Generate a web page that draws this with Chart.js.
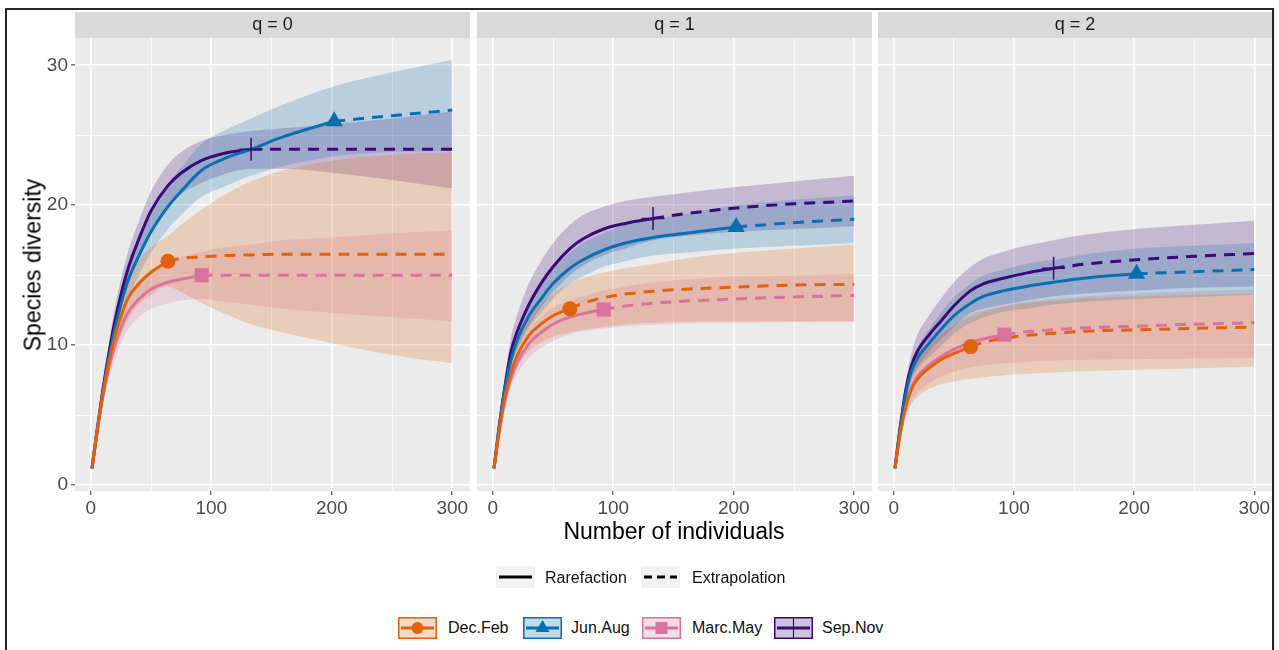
<!DOCTYPE html>
<html><head><meta charset="utf-8">
<script src="https://cdn.jsdelivr.net/npm/chart.js@4.4.1/dist/chart.umd.min.js"></script>
<style>
body{margin:0;background:#fff;width:1279px;height:650px;overflow:hidden;position:relative;font-family:"Liberation Sans",Arial,sans-serif}
.frame{position:absolute;left:5px;top:8px;width:1269px;height:700px;border:2.5px solid #262626;box-sizing:border-box}
.facet{position:absolute;top:12px;height:510px}
.facet canvas{display:block}
.ytitle{position:absolute;left:33px;top:265px;transform:translate(-50%,-50%) rotate(-90deg);font-size:23px;color:#000;white-space:nowrap}
.xtitle{position:absolute;left:674px;top:531px;transform:translate(-50%,-50%);font-size:23px;color:#000;white-space:nowrap}
.lg{position:absolute;font-size:16px;color:#111;white-space:nowrap;line-height:20px}
.key{position:absolute}
</style>
</head><body>
<div class="frame"></div>
<div class="facet" style="left:0;width:470px"><canvas id="c0" width="470" height="510"></canvas></div>
<div class="facet" style="left:477px;width:395px"><canvas id="c1" width="395" height="510"></canvas></div>
<div class="facet" style="left:878px;width:394px"><canvas id="c2" width="394" height="510"></canvas></div>
<div class="ytitle">Species diversity</div>
<div class="xtitle">Number of individuals</div>
<div id="legend"></div>
<script>
// ---------- data ----------
const X = [1,5,10,15,20,30,40,50,64,75,92,110,133,160,202,250,300];
const seasons = ['Dec.Feb','Jun.Aug','Marc.May','Sep.Nov'];
const observedN = [64, 202, 92, 133];
const qLabels = ['q = 0','q = 1','q = 2'];
const xTickValues = [0,50,100,150,200,250,300];
const yTickValues = [0,5,10,15,20,25,30];
const lineTypes = ['Rarefaction','Extrapolation'];

// q = 0
const q0_DecFeb_est = [1.2,3.7,6.5,8.8,10.6,13.2,14.4,15.2,16.0,16.2,16.3,16.4,16.45,16.5,16.5,16.5,16.5];
const q0_DecFeb_lo  = [1.1,3.3,5.9,7.9,9.5,11.7,12.9,13.6,14.2,13.8,13.0,12.3,11.5,10.9,10.1,9.3,8.7];
const q0_DecFeb_hi  = [1.3,4.1,7.1,9.7,11.7,14.7,16.1,17.0,17.8,18.6,19.7,20.7,21.7,22.5,23.2,23.6,23.8];
const q0_JunAug_est = [1.2,3.7,6.6,9.1,11.2,14.4,16.4,18.1,19.9,21.0,22.5,23.3,24.0,24.9,26.0,26.4,26.8];
const q0_JunAug_lo  = [1.1,3.3,6.0,8.3,10.2,13.1,15.0,16.6,18.3,19.3,20.6,21.3,22.1,22.8,23.5,23.8,23.9];
const q0_JunAug_hi  = [1.3,4.1,7.2,9.9,12.2,15.7,17.8,19.6,21.5,22.7,24.4,25.3,26.2,27.2,28.5,29.5,30.4];
const q0_MarcMay_est = [1.2,3.6,6.3,8.4,10.0,12.2,13.3,14.0,14.5,14.7,15.0,15.0,15.0,15.0,15.0,15.0,15.0];
const q0_MarcMay_lo  = [1.1,3.2,5.7,7.6,9.0,11.0,12.0,12.6,13.0,13.2,13.3,13.1,12.9,12.6,12.3,12.0,11.7];
const q0_MarcMay_hi  = [1.3,4.0,6.9,9.2,11.0,13.4,14.6,15.4,16.0,16.3,16.7,17.0,17.2,17.5,17.7,18.0,18.2];
const q0_SepNov_est = [1.2,3.8,6.8,9.4,11.7,15.2,17.6,19.6,21.4,22.3,23.2,23.7,24.0,24.0,24.0,24.0,24.0];
const q0_SepNov_lo  = [1.1,3.4,6.2,8.6,10.7,14.0,16.3,18.2,19.9,20.8,21.6,22.2,22.6,22.6,22.3,21.8,21.2];
const q0_SepNov_hi  = [1.3,4.2,7.4,10.2,12.7,16.4,18.9,21.0,22.9,23.8,24.6,25.0,25.3,25.5,25.8,26.2,26.7];

// q = 1
const q1_DecFeb_est = [1.2,3.7,6.3,8.0,9.2,10.7,11.5,12.1,12.6,13.0,13.4,13.65,13.85,14.0,14.15,14.3,14.35];
const q1_DecFeb_lo  = [1.1,3.3,5.8,7.2,8.4,9.6,10.2,10.6,10.9,11.1,11.3,11.5,11.6,11.7,11.7,11.7,11.7];
const q1_DecFeb_hi  = [1.3,4.1,6.8,8.8,10.0,11.8,12.9,13.7,14.4,14.8,15.2,15.5,15.8,16.2,16.6,16.9,17.2];
const q1_JunAug_est = [1.2,3.9,6.9,8.9,10.3,12.1,13.3,14.4,15.5,16.1,16.8,17.3,17.7,18.0,18.45,18.75,19.0];
const q1_JunAug_lo  = [1.1,3.5,6.4,8.2,9.5,11.2,12.3,13.3,14.4,14.9,15.6,16.0,16.4,16.6,16.9,17.1,17.3];
const q1_JunAug_hi  = [1.3,4.3,7.4,9.6,11.1,13.0,14.3,15.5,16.6,17.3,18.0,18.6,19.0,19.4,20.0,20.4,20.7];
const q1_MarcMay_est = [1.2,3.6,6.0,7.6,8.7,10.1,10.9,11.5,12.0,12.25,12.55,12.8,13.0,13.15,13.3,13.45,13.55];
const q1_MarcMay_lo  = [1.1,3.2,5.5,6.9,7.9,9.1,9.8,10.3,10.8,11.0,11.2,11.35,11.45,11.55,11.6,11.65,11.7];
const q1_MarcMay_hi  = [1.3,4.0,6.5,8.3,9.5,11.1,12.0,12.7,13.2,13.5,13.9,14.2,14.5,14.7,14.9,15.0,15.1];
const q1_SepNov_est = [1.2,4.0,7.0,9.5,10.9,12.9,14.4,15.6,16.9,17.6,18.3,18.7,19.05,19.4,19.8,20.1,20.3];
const q1_SepNov_lo  = [1.1,3.6,6.4,8.5,9.7,11.4,12.7,13.8,15.0,15.7,16.4,16.9,17.5,17.8,18.1,18.3,18.5];
const q1_SepNov_hi  = [1.3,4.4,7.7,10.5,12.1,14.4,16.0,17.3,18.6,19.3,19.9,20.3,20.6,20.9,21.3,21.7,22.1];

// q = 2
const q2_DecFeb_est = [1.2,3.5,5.6,6.9,7.6,8.4,9.0,9.4,9.9,10.2,10.5,10.7,10.85,11.0,11.1,11.2,11.3];
const q2_DecFeb_lo  = [1.1,3.1,4.9,5.8,6.3,6.9,7.2,7.4,7.6,7.7,7.85,7.95,8.05,8.15,8.25,8.35,8.45];
const q2_DecFeb_hi  = [1.3,3.9,6.3,8.0,8.9,9.9,10.8,11.4,12.2,12.5,12.8,13.0,13.2,13.35,13.5,13.6,13.7];
const q2_JunAug_est = [1.2,3.8,6.5,8.2,9.1,10.2,11.2,12.1,13.0,13.5,13.9,14.2,14.5,14.8,15.1,15.25,15.4];
const q2_JunAug_lo  = [1.1,3.4,6.0,7.5,8.3,9.2,10.0,10.8,11.6,12.0,12.4,12.6,12.9,13.1,13.3,13.45,13.6];
const q2_JunAug_hi  = [1.3,4.2,7.0,8.9,9.9,11.2,12.4,13.4,14.4,15.0,15.4,15.8,16.1,16.5,16.9,17.1,17.3];
const q2_MarcMay_est = [1.2,3.5,5.7,7.0,7.8,8.6,9.2,9.7,10.2,10.45,10.75,10.95,11.1,11.25,11.35,11.5,11.6];
const q2_MarcMay_lo  = [1.1,3.1,5.0,6.0,6.6,7.3,7.8,8.1,8.4,8.55,8.7,8.8,8.9,8.95,9.0,9.05,9.1];
const q2_MarcMay_hi  = [1.3,3.9,6.4,8.0,9.0,10.0,10.8,11.4,12.0,12.35,12.8,13.1,13.3,13.5,13.7,13.85,14.0];
const q2_SepNov_est = [1.2,3.9,6.8,8.6,9.6,10.8,11.8,12.8,13.9,14.4,14.8,15.15,15.5,15.8,16.1,16.35,16.55];
const q2_SepNov_lo  = [1.1,3.5,6.2,7.7,8.5,9.6,10.5,11.3,12.3,12.6,12.9,13.2,13.5,13.7,13.9,14.1,14.2];
const q2_SepNov_hi  = [1.3,4.3,7.4,9.5,10.8,12.2,13.4,14.5,15.6,16.2,16.7,17.1,17.5,17.9,18.3,18.6,18.9];

// ---------- styles ----------
const colors = ['#E0620D','#0A6FB2','#D9739E','#3B0A78'];
const bandAlpha = 0.22;
const markerStyle = ['circle','triangle','rect','cross'];
const markerRadius = [7.5, 10, 10, 11.5];
const FONT = '"Liberation Sans", Arial, sans-serif';

function rgba(hex, a){const n=parseInt(hex.slice(1),16);return `rgba(${n>>16&255},${n>>8&255},${n&255},${a})`;}

const facetData = [
  {est:[q0_DecFeb_est,q0_JunAug_est,q0_MarcMay_est,q0_SepNov_est], lo:[q0_DecFeb_lo,q0_JunAug_lo,q0_MarcMay_lo,q0_SepNov_lo], hi:[q0_DecFeb_hi,q0_JunAug_hi,q0_MarcMay_hi,q0_SepNov_hi]},
  {est:[q1_DecFeb_est,q1_JunAug_est,q1_MarcMay_est,q1_SepNov_est], lo:[q1_DecFeb_lo,q1_JunAug_lo,q1_MarcMay_lo,q1_SepNov_lo], hi:[q1_DecFeb_hi,q1_JunAug_hi,q1_MarcMay_hi,q1_SepNov_hi]},
  {est:[q2_DecFeb_est,q2_JunAug_est,q2_MarcMay_est,q2_SepNov_est], lo:[q2_DecFeb_lo,q2_JunAug_lo,q2_MarcMay_lo,q2_SepNov_lo], hi:[q2_DecFeb_hi,q2_JunAug_hi,q2_MarcMay_hi,q2_SepNov_hi]}
];

function buildDatasets(fd){
  const ds = [];
  seasons.forEach((s,i)=>{
    const pts = arr => X.map((x,j)=>({x, y:arr[j]}));
    ds.push({label:s+' lo', data:pts(fd.lo[i]), borderWidth:0, pointRadius:0, fill:false, order:10, cubicInterpolationMode:'monotone'});
    ds.push({label:s+' hi', data:pts(fd.hi[i]), borderWidth:0, pointRadius:0, fill:'-1', backgroundColor:rgba(colors[i],bandAlpha), order:10, cubicInterpolationMode:'monotone'});
  });
  seasons.forEach((s,i)=>{
    const n = observedN[i];
    const est = fd.est[i];
    const rare = X.map((x,j)=>({x,y:est[j]})).filter(p=>p.x<=n);
    const extra = X.map((x,j)=>({x,y:est[j]})).filter(p=>p.x>=n);
    ds.push({label:s+' '+lineTypes[0], data:rare, borderColor:colors[i], borderWidth:3, pointRadius:0, fill:false, order:5, cubicInterpolationMode:'monotone'});
    ds.push({label:s+' '+lineTypes[1], data:extra, borderColor:colors[i], borderWidth:3, borderDash:[11,8], pointRadius:0, fill:false, order:5, cubicInterpolationMode:'monotone'});
    const k = X.indexOf(n);
    ds.push({label:s+' observed', data:[{x:n,y:est[k]}], showLine:false, pointStyle:markerStyle[i], pointRadius:markerRadius[i],
      pointBackgroundColor:colors[i], pointBorderColor:colors[i], pointBorderWidth: i===3?1.5:0, order:1});
  });
  return ds;
}

const panelPlugin = {
  id:'panel',
  beforeDraw(chart, args, opts){
    const {ctx, chartArea:a} = chart;
    ctx.save();
    ctx.fillStyle = '#EBEBEB';
    ctx.fillRect(a.left, a.top, a.right-a.left, a.bottom-a.top);
    ctx.fillStyle = '#D9D9D9';
    ctx.fillRect(a.left, a.top-26, a.right-a.left, 26);
    ctx.fillStyle = '#1A1A1A';
    ctx.font = '18px ' + FONT;
    ctx.textAlign = 'center';
    ctx.textBaseline = 'middle';
    ctx.fillText(opts.label, (a.left+a.right)/2, a.top-13);
    ctx.restore();
  }
};

function noPad(s){ s.paddingLeft = 0; s.paddingRight = 0; s.paddingTop = 0; s.paddingBottom = 0; }

facetData.forEach((fd, f)=>{
  const first = f===0;
  new Chart(document.getElementById('c'+f), {
    type:'line',
    data:{datasets:buildDatasets(fd)},
    plugins:[panelPlugin],
    options:{
      responsive:false, animation:false, events:[],
      layout:{autoPadding:false, padding:{top:26,left:0,right:0,bottom:0}},
      plugins:{legend:{display:false}, tooltip:{enabled:false}, panel:{label:qLabels[f]}},
      scales:{
        x:{type:'linear', min:-13.1, max:314.7,
          afterBuildTicks:s=>{s.ticks = xTickValues.map(v=>({value:v}));},
          afterFit:s=>{s.height = 31; noPad(s);},
          border:{display:false},
          grid:{color:'#FFFFFF', lineWidth:c=>(c.tick && c.tick.value%100===0)?1.6:0.8, drawTicks:true, tickLength:4,
            tickColor:c=>(c.tick && c.tick.value%100===0)?'#333333':'rgba(0,0,0,0)', tickWidth:1},
          ticks:{color:'#4D4D4D', font:{family:FONT, size:19}, padding:2, maxRotation:0, autoSkip:false,
            callback:v=>(v%100===0)?String(v):''}
        },
        y:{type:'linear', min:-0.42, max:31.95,
          afterBuildTicks:s=>{s.ticks = yTickValues.map(v=>({value:v}));},
          afterFit:s=>{s.width = first?75:0; noPad(s);},
          border:{display:false},
          grid:{color:'#FFFFFF', lineWidth:c=>(c.tick && c.tick.value%10===0)?1.6:0.8, drawTicks:first, tickLength:4,
            tickColor:c=>(c.tick && c.tick.value%10===0)?'#333333':'rgba(0,0,0,0)', tickWidth:1},
          ticks:{display:first, color:'#4D4D4D', font:{family:FONT, size:19}, padding:3, autoSkip:false,
            callback:v=>(v%10===0)?String(v):''}
        }
      }
    }
  });
});

// ---------- legend ----------
const L = document.getElementById('legend');
function add(html){L.insertAdjacentHTML('beforeend', html);}
add(`<svg class="key" style="left:496px;top:566px" width="39" height="22"><rect width="39" height="22" fill="#F2F2F2"/><line x1="3" y1="11" x2="36" y2="11" stroke="#000" stroke-width="3"/></svg>`);
add(`<div class="lg" style="left:545px;top:568px">${lineTypes[0]}</div>`);
add(`<svg class="key" style="left:641px;top:566px" width="39" height="22"><rect width="39" height="22" fill="#F2F2F2"/><line x1="3" y1="11" x2="36" y2="11" stroke="#000" stroke-width="3" stroke-dasharray="8,5"/></svg>`);
add(`<div class="lg" style="left:692px;top:568px">${lineTypes[1]}</div>`);
const keyLeft = [398, 523, 642, 774];
const textLeft = [448, 571, 692, 822];
seasons.forEach((s,i)=>{
  const c = colors[i];
  let m = '';
  if(i===0) m = `<circle cx="19.5" cy="11" r="6" fill="${c}"/>`;
  if(i===1) m = `<polygon points="19.5,3 26.5,15 12.5,15" fill="${c}"/>`;
  if(i===2) m = `<rect x="13.5" y="5" width="12" height="12" fill="${c}"/>`;
  if(i===3) m = `<line x1="19.5" y1="1" x2="19.5" y2="21" stroke="${c}" stroke-width="1.2"/>`;
  add(`<svg class="key" style="left:${keyLeft[i]}px;top:617px" width="39" height="22"><rect x="0.75" y="0.75" width="37.5" height="20.5" fill="${rgba(c,0.25)}" stroke="${c}" stroke-width="1.5"/><line x1="3" y1="11" x2="36" y2="11" stroke="${c}" stroke-width="3"/>${m}</svg>`);
  add(`<div class="lg" style="left:${textLeft[i]}px;top:618px">${s}</div>`);
});
</script>
</body></html>
